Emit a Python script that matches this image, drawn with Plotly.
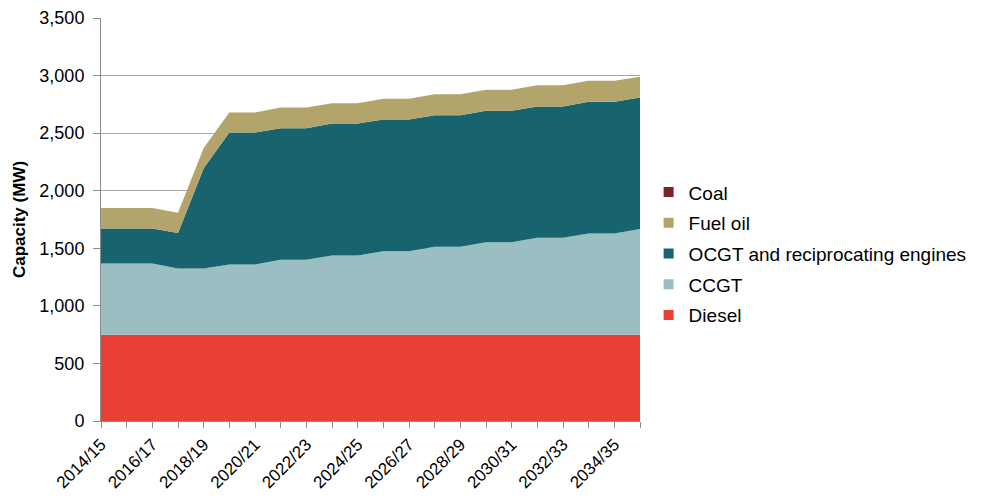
import plotly.graph_objects as go

years = ["2014/15", "2015/16", "2016/17", "2017/18", "2018/19", "2019/20", "2020/21",
         "2021/22", "2022/23", "2023/24", "2024/25", "2025/26", "2026/27", "2027/28",
         "2028/29", "2029/30", "2030/31", "2031/32", "2032/33", "2033/34", "2034/35",
         "2035/36"]

diesel = [750] * 22
ccgt = [618, 618, 618, 575, 575, 610, 610, 650, 650, 687, 687, 724, 724, 763, 763,
        803, 803, 841, 841, 879, 879, 918]
ocgt = [304, 304, 304, 307, 871, 1145, 1145, 1143, 1143, 1146, 1146, 1144, 1144, 1143,
        1143, 1141, 1141, 1140, 1140, 1143, 1143, 1141]
fuel_oil = [177, 177, 177, 176, 174, 174, 174, 179, 179, 177, 177, 180, 180, 182, 182,
            182, 182, 186, 186, 182, 182, 180]
coal = [0] * 22

series = [
    ("Diesel", diesel, "#E94035"),
    ("CCGT", ccgt, "#9BBEC2"),
    ("OCGT and reciprocating engines", ocgt, "#17646F"),
    ("Fuel oil", fuel_oil, "#B3A46C"),
    ("Coal", coal, "#7B2128"),
]

x_idx = list(range(len(years)))
tick_idx = x_idx[::2]
tick_txt = years[::2]

FONT = "Liberation Sans, Arial, sans-serif"
fig = go.Figure()
for name, vals, col in series:
    fig.add_trace(go.Scatter(
        x=x_idx, y=vals, name=name, stackgroup="one", mode="lines",
        line=dict(width=0, color=col), fillcolor=col, showlegend=False,
        hovertext=years,
    ))

# legend-only entries with square markers (top to bottom: Coal ... Diesel)
for i, (name, vals, col) in enumerate(reversed(series)):
    fig.add_trace(go.Scatter(
        x=[None], y=[None], mode="markers", name=name,
        marker=dict(symbol="square", size=10, color=col),
        legendgroup="g%d" % i, showlegend=True,
    ))

fig.update_layout(
    width=978, height=492,
    margin=dict(l=93, r=346, t=10, b=79),
    paper_bgcolor="white", plot_bgcolor="white",
    font=dict(family=FONT, size=18, color="#000000"),
    showlegend=True,
    legend=dict(
        x=1.016, xanchor="left", y=0.415, yanchor="middle",
        traceorder="grouped", tracegroupgap=3,
        font=dict(family=FONT, size=19, color="#000000"),
        bgcolor="rgba(0,0,0,0)", itemsizing="trace",
    ),
    xaxis=dict(
        range=[0, len(years) - 1], tickmode="array", tickvals=tick_idx, ticktext=tick_txt,
        tickangle=-45, ticks="outside", ticklen=6, tickcolor="#8C8C8C",
        showline=True, linecolor="#8C8C8C", linewidth=1, showgrid=False, zeroline=False,
        minor=dict(dtick=1, tick0=0, ticks="outside", ticklen=6, tickcolor="#8C8C8C", showgrid=False),
        tickfont=dict(size=17), automargin=False,
    ),
    yaxis=dict(
        range=[0, 3500], dtick=500, tickformat=",d", ticks="outside", ticklen=7,
        tickcolor="#8C8C8C", showline=True, linecolor="#8C8C8C", linewidth=1,
        showgrid=True, gridcolor="#A6A6A6", gridwidth=1, zeroline=False,
        title=dict(text="<b>Capacity (MW)</b>", font=dict(size=17), standoff=9),
        tickfont=dict(size=18), automargin=False, ticklabelstandoff=5,
    ),
)

fig.write_html("out.html")
